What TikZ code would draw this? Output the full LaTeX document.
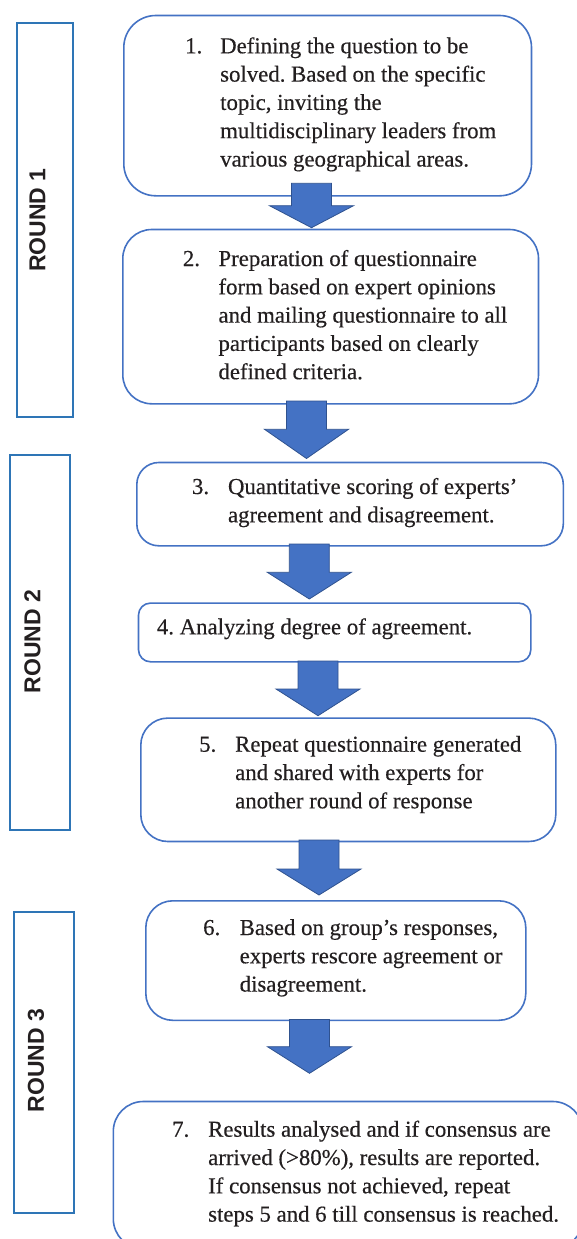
\documentclass[tikz,border=0pt]{standalone}
\usepackage{fontspec}
\setmainfont{Liberation Serif}
\newfontfamily\bodyfont{Liberation Serif}[FakeBold=0.4]
\newfontfamily\labelfont{Liberation Sans}
\definecolor{boxblue}{HTML}{4472C4}
\definecolor{arrowedge}{HTML}{2F528F}
\definecolor{roundblue}{HTML}{2E75B6}
\definecolor{txt}{HTML}{231F20}
\newcommand\blockarrow[4]{%
  \filldraw[arrowstyle] (#1-20,#2) -- (#1+20,#2) -- (#1+20,#3) -- (#1+42,#3) -- (#1,#4) -- (#1-42,#3) -- (#1-20,#3) -- cycle;}
\frenchspacing
\begin{document}
\begin{tikzpicture}[x=1pt,y=-1pt,
  stepbox/.style={draw=boxblue, line width=1.6pt, fill=white, inner sep=0pt, anchor=north west},
  roundbox/.style={draw=roundblue, line width=2pt, inner sep=0pt, anchor=north west},
  roundlabel/.style={rotate=90, inner sep=0pt, text=txt, font=\labelfont\bfseries\fontsize{23}{26}\selectfont},
  bodytext/.style={anchor=base west, inner sep=0pt, text=txt, font=\bodyfont\frenchspacing\fontsize{22.8}{28.3}\selectfont},
  arrowstyle/.style={fill=boxblue, draw=arrowedge, line width=0.8pt, line join=miter}]
\fill[white] (0,0) rectangle (576,1239);
\useasboundingbox (0,0) rectangle (576,1239);

% round frames
\node[roundbox, minimum width=56.6pt, minimum height=394.3pt] (r1) at (15.7,21.7) {};
\node[roundbox, minimum width=59.7pt, minimum height=375pt] (r2) at (9.3,454) {};
\node[roundbox, minimum width=59.7pt, minimum height=301pt] (r3) at (13.3,911) {};
\node[roundlabel] (l1) at (37.5,220) {ROUND 1};
\node[roundlabel] (l2) at (32.5,641.5) {ROUND 2};
\node[roundlabel] (l3) at (36,1060.5) {ROUND 3};

% step boxes
\node[stepbox, rounded corners=32pt, minimum width=407.7pt, minimum height=180.3pt] (b1) at (123,14.7) {};
\node[stepbox, rounded corners=29pt, minimum width=415.7pt, minimum height=174.3pt] (b2) at (122,228.7) {};
\node[stepbox, rounded corners=22pt, minimum width=426.5pt, minimum height=83.3pt] (b3) at (136,461.7) {};
\node[stepbox, rounded corners=12pt, minimum width=392.3pt, minimum height=58.7pt] (b4) at (137.7,602.3) {};
\node[stepbox, rounded corners=27pt, minimum width=415pt, minimum height=123.4pt] (b5) at (140,717.3) {};
\node[stepbox, rounded corners=27pt, minimum width=380pt, minimum height=119.5pt] (b6) at (145,900) {};
\node[stepbox, rounded corners=30pt, minimum width=469.5pt, minimum height=147.3pt] (b7) at (112.5,1100.7) {};

% block arrows
\blockarrow{311.5}{183.3}{205.7}{227.7}
\blockarrow{306.5}{401}{429.3}{458.5}
\blockarrow{309.3}{544}{572.3}{599}
\blockarrow{318}{661}{689}{715.7}
\blockarrow{319}{840}{869}{895}
\blockarrow{309.5}{1019.5}{1046.7}{1073.3}

% texts
\node[bodytext] (n1) at (185,53.3) {1.};
\node[bodytext] (t1) at (220,53.3) {\begin{tabular}[t]{@{}l@{}}Defining the question to be\\ solved. Based on the specific\\ topic, inviting the\\ multidisciplinary leaders from\\ various geographical areas.\end{tabular}};

\node[bodytext] (n2) at (182.7,266) {2.};
\node[bodytext] (t2) at (218.3,266) {\begin{tabular}[t]{@{}l@{}}Preparation of questionnaire\\ form based on expert opinions\\ and mailing questionnaire to all\\ participants based on clearly\\ defined criteria.\end{tabular}};

\node[bodytext] (n3) at (191.8,494) {3.};
\node[bodytext] (t3) at (227.8,494) {\begin{tabular}[t]{@{}l@{}}Quantitative scoring of experts’\\ agreement and disagreement.\end{tabular}};

\node[bodytext] (t4) at (156.7,634.3) {4. Analyzing degree of agreement.};

\node[bodytext] (n5) at (199,751.7) {5.};
\node[bodytext] (t5) at (235,751.7) {\begin{tabular}[t]{@{}l@{}}Repeat questionnaire generated\\ and shared with experts for\\ another round of response\end{tabular}};

\node[bodytext] (n6) at (203,935) {6.};
\node[bodytext] (t6) at (239.5,935) {\begin{tabular}[t]{@{}l@{}}Based on group’s responses,\\ experts rescore agreement or\\ disagreement.\end{tabular}};

\node[bodytext] (n7) at (172,1136.7) {7.};
\node[bodytext] (t7) at (208,1136.7) {\begin{tabular}[t]{@{}l@{}}Results analysed and if consensus are\\ arrived (>80\%), results are reported.\\ If consensus not achieved, repeat\\ steps 5 and 6 till consensus is reached.\end{tabular}};
\end{tikzpicture}
\end{document}
